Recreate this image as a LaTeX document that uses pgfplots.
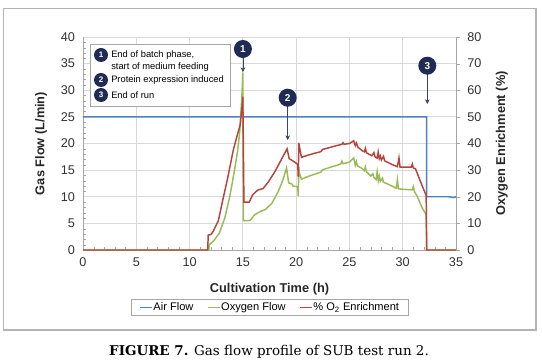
\documentclass[border=0pt]{standalone}
\usepackage{pgfplots}
\pgfplotsset{compat=1.18}
\usepackage{fontspec}
\setmainfont{Liberation Sans}
\newfontfamily\capfont{DejaVu Serif}
\usetikzlibrary{arrows.meta}
\definecolor{airblue}{HTML}{4F81BD}
\definecolor{oxgreen}{HTML}{9BBB59}
\definecolor{enred}{HTML}{B5443C}
\definecolor{navy}{HTML}{1F2A55}
\definecolor{framegray}{HTML}{B4B4B4}
\definecolor{gridgray}{HTML}{D9D9D9}
\definecolor{axgray}{HTML}{A6A6A6}
\pgfplotsset{
  common/.style={
    at={(62.25pt,-187.5pt)}, anchor=south west,
    scale only axis, width=279.75pt, height=159.75pt,
    xmin=0, xmax=35,
    /pgf/number format/assume math mode=true,
    tick label style={font=\fontsize{9.5}{11}\selectfont, text=black!80},
    label style={font=\bfseries\fontsize{9.6}{11}\selectfont, text=black!85},
  },
  limg/.style={legend image code/.code={\draw[#1, line width=1.1pt] (0pt,0pt) -- (9pt,0pt);}},
}
\begin{document}
\begin{tikzpicture}[x=0.75pt,y=-0.75pt]
\path[use as bounding box] (0,0) rectangle (542,363);
\fill[white] (0,0) rectangle (542,363);
\draw[framegray, line width=1pt] (3.5,8.5) rectangle (536,330);
\begin{axis}[common,
  ymin=0, ymax=40,
  xtick={0,5,...,35}, ytick={0,5,...,40},
  minor x tick num=4, minor y tick num=4,
  axis x line*=bottom, axis y line*=left,
  axis line style={axgray},
  grid=major, major grid style={gridgray, line width=0.6pt},
  tick align=inside, major tick length=0pt, minor tick length=2.5pt,
  minor tick style={axgray},
  xticklabel style={yshift=-2pt},
  yticklabel style={xshift=-2.5pt},
  xlabel={Cultivation Time (h)}, ylabel={Gas Flow (L/min)},
  xlabel style={yshift=-6pt}, ylabel style={yshift=3.6pt},
]
\addplot[airblue, line width=1.1pt] coordinates {
(0,25) (32.25,25) (32.25,10) (34.3,10) (34.6,9.9) (34.85,9.9) (35,10)};
\addplot[oxgreen, line width=1.1pt] coordinates {
(0,0) (11.8,0) (11.85,1.0) (12.3,1.8) (12.8,3.2) (13.3,6.0) (13.75,9.8) (14.2,14.8)
(14.5,18.5) (14.7,22) (14.9,28.5) (15.0,33.3) (15.05,5.5) (15.5,5.5) (15.7,5.6)
(16.1,6.6) (16.6,7.2) (17.1,7.6) (17.7,8.7) (18.3,10.9) (18.75,13.1) (19.1,15.4)
(19.3,12.6) (19.6,12.4) (19.7,12.0) (20.05,11.9) (20.15,11.7) (20.2,10.1) (20.25,15.6)
(20.3,14.5) (20.5,13.3) (21.1,13.8) (21.7,14.2) (22.3,14.6) (22.5,15.1) (22.7,15.2)
(23.3,15.6) (24.0,16.0) (24.2,16.2) (24.3,16.7) (24.4,16.2) (25.0,16.5) (25.4,17.3)
(25.55,15.9) (25.65,16.6) (25.75,15.8) (26.2,15.3) (26.4,14.9) (26.5,15.6) (26.6,14.7)
(27.0,13.9) (27.2,14.3) (27.3,13.6) (27.5,13.2) (27.6,14.7) (27.7,13.0) (27.8,13.9)
(27.9,12.9) (28.1,13.5) (28.2,12.7) (28.6,12.4) (29.2,11.8) (29.4,11.6) (29.5,13.2)
(29.6,11.5) (30.0,11.4) (30.9,11.3) (31.0,11.9) (31.1,11.0) (31.4,9.9) (31.8,8.0)
(32.2,6.6) (32.25,0) (35,0)};
\end{axis}
\begin{axis}[common,
  ymin=0, ymax=80, ytick={0,10,...,80},
  axis x line=none, axis y line*=right,
  axis line style={axgray},
  tick align=outside, major tick length=3pt, ytick style={axgray},
  yticklabel style={xshift=2pt},
  ylabel={Oxygen Enrichment (\%)}, ylabel style={yshift=-4pt},
  legend columns=3,
  legend style={at={(0.5,-0.232)}, anchor=north, draw=none, name=leg,
    font=\fontsize{8.3}{9.5}\selectfont, inner xsep=6pt, inner ysep=1.5pt,
    nodes={inner sep=0.6pt},
    /tikz/every even column/.append style={column sep=9.5pt}},
  legend cell align=left,
]
\addlegendimage{legend image code/.code={\draw[airblue, line width=1.1pt] (0pt,0pt) -- (9pt,0pt);}}
\addlegendentry{Air Flow}
\addlegendimage{legend image code/.code={\draw[oxgreen, line width=1.1pt] (0pt,0pt) -- (9pt,0pt);}}
\addlegendentry{Oxygen Flow}
\addplot[enred, line width=1.1pt,
  legend image code/.code={\draw[enred, line width=1.1pt] (0pt,0pt) -- (9pt,0pt);}] coordinates {
(0,0) (11.7,0) (11.75,5.6) (12.0,5.8) (12.2,6.9) (12.7,11) (13.1,18.5) (13.6,27.5)
(14.1,37.5) (14.5,43.5) (14.75,47) (14.9,53) (15.0,57.6) (15.1,18) (15.6,18) (15.9,20.6)
(16.2,21.8) (16.4,22.5) (16.9,23.1) (17.4,25.6) (18.0,29.4) (18.75,35) (19.15,38.0)
(19.35,34.3) (19.8,33.2) (20.1,32.3) (20.15,32) (20.2,27.5) (20.25,40.2) (20.35,38)
(20.5,34.8) (21.1,35.6) (21.7,36.3) (22.3,36.9) (22.5,37.8) (22.8,38.1) (23.6,39)
(24.3,39.7) (24.4,40.3) (24.5,39.7) (25.0,40.0) (25.4,41.0) (25.55,39.2) (25.65,40.2)
(25.8,38.6) (26.2,37.3) (26.4,36.9) (26.5,38.2) (26.6,36.5) (27.1,35.4) (27.3,36.6)
(27.4,35.0) (27.6,34.5) (27.7,36.8) (27.8,34.3) (27.9,35.3) (28.0,33.8) (28.2,35.2)
(28.3,33.5) (29.0,32.1) (29.5,31.3) (29.65,34.6) (29.75,31.1) (30.8,31.1) (30.9,32.3)
(31.0,30.8) (31.2,30.5) (31.5,27.4) (31.9,23.4) (32.2,20.5) (32.25,0) (35,0)};
\addlegendentry{\% O\textsubscript{2} Enrichment}
\end{axis}
\draw[axgray, line width=0.6pt] (leg.south west) rectangle (leg.north east);
% annotation box
\draw[axgray, fill=white, line width=0.6pt] (90,44) rectangle (230,106);
\tikzset{num/.style={circle, fill=navy, text=white, inner sep=0pt, minimum size=#1,
  font=\bfseries\fontsize{6}{6}\selectfont}}
\node[num=10.5] at (101,55) {1};
\node[num=10.5] at (101,80) {2};
\node[num=10.5] at (101,95) {3};
\begin{scope}[every node/.style={anchor=west, inner sep=0pt, font=\fontsize{7}{8}\selectfont}]
\node at (111,55) {End of batch phase,};
\node at (111,67) {start of medium feeding};
\node at (111,80) {Protein expression induced};
\node at (111,95) {End of run};
\end{scope}
% markers with arrows
\tikzset{arr/.style={draw=navy!70!gray, line width=0.5pt, -{Stealth[length=3.5pt,width=3.5pt,fill=navy]}}}
\draw[arr] (242.9,56) -- (242.9,72);
\node[num=13.5, font=\bfseries\fontsize{7.5}{7.5}\selectfont] at (242.9,49) {1};
\draw[arr] (287.7,104) -- (287.7,140);
\node[num=13.5, font=\bfseries\fontsize{7.5}{7.5}\selectfont] at (287.7,97.7) {2};
\draw[arr] (427.3,72) -- (427.3,104);
\node[num=13.5, font=\bfseries\fontsize{7.5}{7.5}\selectfont] at (427.3,65.7) {3};
% caption
\node[font=\capfont\fontsize{10.1}{12}\selectfont, inner sep=0pt] at (269,352)
  {\textbf{FIGURE 7.} Gas flow profile of SUB test run 2.};
\end{tikzpicture}
\end{document}
